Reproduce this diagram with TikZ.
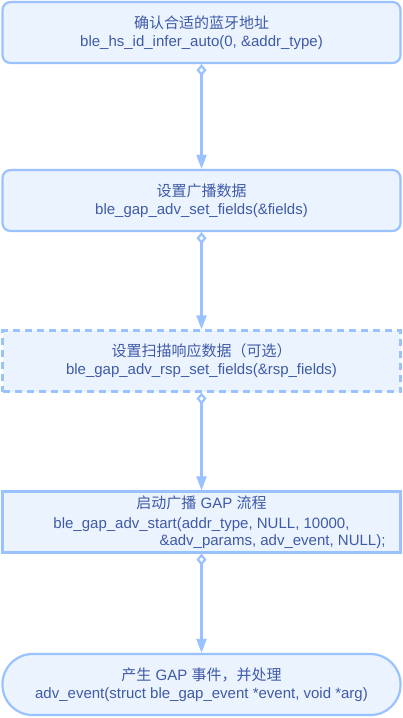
\documentclass[tikz,border=0pt]{standalone}
\usepackage{fontspec}
\setmainfont{Liberation Sans}
\newfontfamily\cjk{Noto Sans CJK SC}
\usepackage{xcolor}
\usepackage{tikz}
\usetikzlibrary{arrows.meta}

\definecolor{stepline}{HTML}{99C2FF}
\definecolor{stepfill}{HTML}{EBF3FF}
\definecolor{steptext}{HTML}{3F5AA8}

\begin{document}
\begin{tikzpicture}[x=1pt,y=-1pt,
        stepbox/.style={draw=stepline,fill=stepfill,line width=2.2pt,text=steptext,
            minimum width=398pt,minimum height=61pt,inner sep=0pt,align=center,
            font=\fontsize{15}{18}\selectfont},
        flow/.style={draw=stepline,line width=2.2pt,
            {Diamond[open,length=12pt,width=10pt]}-{Triangle[length=14pt,width=10pt]}}]

        \useasboundingbox (0,0) rectangle (403,718);

        \node[stepbox,rounded corners=8pt] (addr) at (201.5,32.5)
            {{\cjk 确认合适的蓝牙地址}\\ble\_hs\_id\_infer\_auto(0, \&addr\_type)};
        \node[stepbox,rounded corners=8pt] (fields) at (201.5,200.5)
            {{\cjk 设置广播数据}\\ble\_gap\_adv\_set\_fields(\&fields)};
        \node[stepbox,dash pattern=on 7pt off 5pt] (rsp) at (201.5,361)
            {{\cjk 设置扫描响应数据（可选）}\\ble\_gap\_adv\_rsp\_set\_fields(\&rsp\_fields)};
        \node[stepbox,font=\fontsize{15}{16.5}\selectfont] (start) at (201.5,522)
            {{\cjk 启动广播} GAP {\cjk 流程}\\[4pt]ble\_gap\_adv\_start(addr\_type, NULL, 10000,\\
             \hspace*{142pt}\&adv\_params, adv\_event, NULL);};
        \node[stepbox,rounded corners=30pt] (event) at (201.5,684.5)
            {{\cjk 产生} GAP {\cjk 事件，并处理}\\adv\_event(struct ble\_gap\_event *event, void *arg)};

        \draw[flow] (addr.south) -- (fields.north);
        \draw[flow] (fields.south) -- (rsp.north);
        \draw[flow] (rsp.south) -- (start.north);
        \draw[flow] (start.south) -- (event.north);

    \end{tikzpicture}
\end{document}
